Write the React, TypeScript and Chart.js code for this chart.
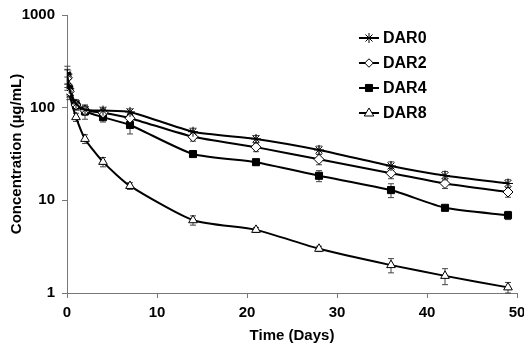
import React, { useEffect, useRef } from "react";
import { Chart, registerables } from "chart.js";

Chart.register(...registerables);

const times = [0.04, 0.25, 1, 2, 4, 7, 14, 21, 28, 36, 42, 49];
const seriesNames = ["DAR0", "DAR2", "DAR4", "DAR8"];
const dar0 = [230, 160, 110, 95, 93, 90, 55, 46, 35, 23.5, 18.5, 15.2];
const dar2 = [210, 150, 107, 93, 88, 77, 48.5, 37.5, 27.7, 19.6, 15.2, 12.3];
const dar4 = [219, 157, 106, 91, 79, 65, 31.6, 25.8, 18.4, 12.9, 8.3, 6.9];
const dar8 = [184, 142, 79, 46, 26, 14.3, 6.1, 4.8, 3.0, 2.0, 1.53, 1.15];
const err0 = [50, 20, 12, 10, 8, 7, 5, 4, 3.5, 2.5, 2, 1.5];
const err2 = [45, 20, 12, 10, 8, 9, 5, 4, 3.5, 2.5, 1.8, 1.5];
const err4 = [40, 20, 12, 16, 9, 13, 2, 2, 2.5, 2.2, 0.5, 0.7];
const err8 = [30, 20, 8, 5, 3, 1.2, 0.7, 0.3, 0.2, 0.35, 0.3, 0.15];
const yTicks = [1, 10, 100, 1000];
const xTicks = [0, 10, 20, 30, 40, 50];

const FONT = "'Liberation Sans', Arial, sans-serif";

const styles = [
  { pointStyle: "star", bg: "#000" },
  { pointStyle: "rectRot", bg: "#fff" },
  { pointStyle: "rect", bg: "#000" },
  { pointStyle: "triangle", bg: "#fff" },
];

function drawMarker(ctx: CanvasRenderingContext2D, style: string, x: number, y: number, r: number, fill: string) {
  ctx.save();
  ctx.fillStyle = fill;
  ctx.strokeStyle = "#000";
  ctx.lineWidth = 1;
  ctx.beginPath();
  if (style === "rect") {
    const s = r * Math.SQRT1_2;
    ctx.rect(x - s, y - s, 2 * s, 2 * s);
    ctx.fill();
    ctx.stroke();
  } else if (style === "rectRot") {
    const s = r * 0.85;
    ctx.moveTo(x, y - s);
    ctx.lineTo(x + s, y);
    ctx.lineTo(x, y + s);
    ctx.lineTo(x - s, y);
    ctx.closePath();
    ctx.fill();
    ctx.stroke();
  } else if (style === "triangle") {
    const s = r;
    ctx.moveTo(x, y - s);
    ctx.lineTo(x + s * 0.95, y + s * 0.6);
    ctx.lineTo(x - s * 0.95, y + s * 0.6);
    ctx.closePath();
    ctx.fill();
    ctx.stroke();
  } else {
    for (let k = 0; k < 4; k++) {
      const a = (k * Math.PI) / 4;
      ctx.moveTo(x - Math.cos(a) * r, y - Math.sin(a) * r);
      ctx.lineTo(x + Math.cos(a) * r, y + Math.sin(a) * r);
    }
    ctx.stroke();
  }
  ctx.restore();
}

const errorBarPlugin = {
  id: "errorBars",
  beforeDatasetsDraw(chart: any) {
    const ctx = chart.ctx;
    const ys = chart.scales.y;
    ctx.save();
    ctx.strokeStyle = "#444";
    ctx.lineWidth = 1;
    chart.data.datasets.forEach((ds: any, i: number) => {
      const meta = chart.getDatasetMeta(i);
      meta.data.forEach((pt: any, j: number) => {
        const v = ds.data[j].y;
        const e = ds.errors[j];
        const top = ys.getPixelForValue(v + e);
        const bot = ys.getPixelForValue(Math.max(v - e, 0.01));
        ctx.beginPath();
        ctx.moveTo(pt.x, top);
        ctx.lineTo(pt.x, bot);
        ctx.moveTo(pt.x - 3, top);
        ctx.lineTo(pt.x + 3, top);
        ctx.moveTo(pt.x - 3, bot);
        ctx.lineTo(pt.x + 3, bot);
        ctx.stroke();
      });
    });
    ctx.restore();
  },
};

const legendPlugin = {
  id: "customLegend",
  afterDraw(chart: any) {
    const ctx = chart.ctx;
    ctx.save();
    const x0 = 359;
    const x1 = 379;
    const rows = [38, 63, 88, 113];
    chart.data.datasets.forEach((ds: any, i: number) => {
      const y = rows[i];
      ctx.strokeStyle = "#000";
      ctx.lineWidth = 2;
      ctx.beginPath();
      ctx.moveTo(x0, y);
      ctx.lineTo(x1, y);
      ctx.stroke();
      drawMarker(ctx, ds.pointStyle, (x0 + x1) / 2, y, ds.pointRadius, ds.pointBackgroundColor);
      ctx.fillStyle = "#000";
      ctx.font = `bold 16px ${FONT}`;
      ctx.textBaseline = "middle";
      ctx.textAlign = "left";
      ctx.fillText(ds.label, 383, y + 1);
    });
    ctx.restore();
  },
};

export default function App() {
  const ref = useRef<HTMLCanvasElement>(null);
  useEffect(() => {
    if (!ref.current) return;
    const all = [dar0, dar2, dar4, dar8];
    const errs = [err0, err2, err4, err8];
    const chart = new Chart(ref.current, {
      type: "line",
      data: {
        datasets: all.map((arr, i) => ({
          label: seriesNames[i],
          data: arr.map((v, j) => ({ x: times[j], y: v })),
          errors: errs[i],
          borderColor: "#000",
          borderWidth: 2,
          pointStyle: styles[i].pointStyle,
          pointBackgroundColor: styles[i].bg,
          pointBorderColor: "#000",
          pointBorderWidth: 1,
          pointRadius: 5,
          tension: 0.2,
          fill: false,
        })) as any,
      },
      options: {
        animation: false,
        responsive: true,
        maintainAspectRatio: false,
        layout: { padding: { top: 15, right: 7, left: 0, bottom: 0 } },
        plugins: { legend: { display: false }, tooltip: { enabled: false } },
        scales: {
          x: {
            type: "linear",
            min: 0,
            max: 50,
            afterBuildTicks: (s: any) => {
              s.ticks = xTicks.map((v) => ({ value: v }));
            },
            afterFit: (s: any) => {
              s.height = 50;
              s.paddingLeft = 0;
              s.paddingRight = 0;
            },
            grid: { drawOnChartArea: false, drawTicks: true, tickLength: 5, color: "#777" },
            border: { display: true, color: "#777", width: 1 },
            ticks: { color: "#000", font: { family: FONT, size: 15, weight: "bold" }, padding: 6, maxRotation: 0 },
            title: {
              display: true,
              text: "Time (Days)",
              color: "#000",
              font: { family: FONT, size: 15, weight: "bold" },
              padding: { top: 0, bottom: -2 },
            },
          },
          y: {
            type: "logarithmic",
            min: 1,
            max: 1000,
            afterBuildTicks: (s: any) => {
              s.ticks = yTicks.map((v) => ({ value: v }));
            },
            afterFit: (s: any) => {
              s.width = 67;
              s.paddingTop = 0;
              s.paddingBottom = 0;
            },
            grid: { drawOnChartArea: false, drawTicks: true, tickLength: 5, color: "#777" },
            border: { display: true, color: "#777", width: 1 },
            ticks: {
              color: "#000",
              font: { family: FONT, size: 15, weight: "bold" },
              padding: 7,
              callback: (v: any) => String(v),
            },
            title: {
              display: true,
              text: "Concentration (µg/mL)",
              color: "#000",
              font: { family: FONT, size: 15, weight: "bold" },
              padding: { top: 8, bottom: 0 },
            },
          },
        },
      },
      plugins: [errorBarPlugin, legendPlugin],
    } as any);
    return () => chart.destroy();
  }, []);
  return (
    <div style={{ position: "absolute", left: 0, top: 0, width: 524, height: 343, background: "#fff" }}>
      <canvas ref={ref} />
    </div>
  );
}
